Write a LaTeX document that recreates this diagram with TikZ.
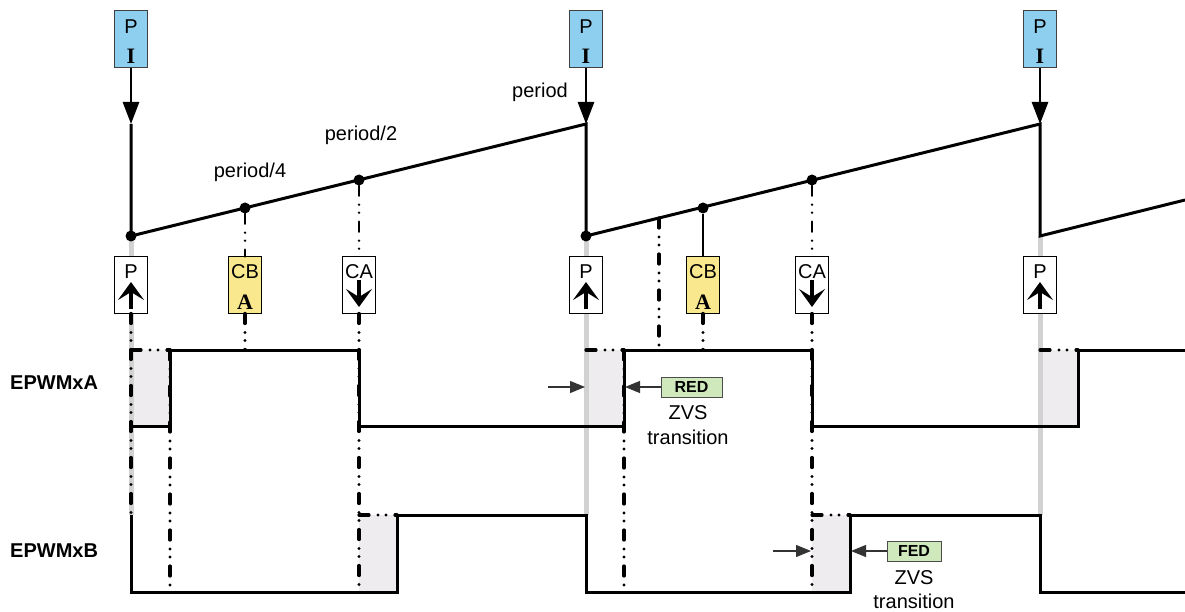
\documentclass[tikz,border=0pt]{standalone}
\usepackage{fontspec}
\setmainfont{Liberation Sans}
\newfontfamily\serifb{Liberation Serif}
\usetikzlibrary{arrows.meta,positioning}
\definecolor{piblue}{RGB}{142,206,238}
\definecolor{cbyellow}{RGB}{250,232,142}
\definecolor{dbgreen}{RGB}{208,233,188}
\definecolor{dbshade}{RGB}{238,236,238}
\definecolor{pline}{RGB}{210,210,210}

\begin{document}
\begin{tikzpicture}[x=1pt,y=-1pt,
  every node/.style={font=\fontsize{20}{24}\selectfont,inner sep=0pt},
  pibox/.style={draw=black!75,line width=1pt,fill=piblue,minimum width=33pt,minimum height=57pt},
  evbox/.style={draw=black,line width=1pt,fill=white,minimum width=33pt,minimum height=56pt},
  cbbox/.style={evbox,fill=cbyellow},
  dbbox/.style={draw=black!70,line width=1pt,fill=dbgreen,minimum height=20pt,font=\fontsize{16}{16}\selectfont\bfseries},
  serifA/.style={font=\serifb\bfseries\fontsize{22}{22}\selectfont},
  pt/.style={circle,fill=black,minimum size=11pt},
  wave/.style={line width=3pt},
  dashdot/.style={line width=3.2pt,line cap=round,dash pattern=on 10pt off 9pt on 0pt off 8pt on 0pt off 9pt},
  perline/.style={pline,line width=5pt},
  piarrow/.style={line width=2.8pt,-{Triangle[length=22pt,width=16pt]}},
  evarrow/.style={line width=4.5pt,-{Stealth[length=18pt,width=26pt,inset=8pt]}},
  dbarrow/.style={black!80,line width=1.2pt,-{Triangle[length=15pt,width=12pt]}}
]
  \useasboundingbox (0,0) rectangle (1185,612);

  % Zonas de banda muerta
  \foreach \xa/\xb/\ya/\yb in {131/170/350/426, 359/397/515/592, 586/624/350/426, 812/850/515/592, 1040/1078/350/426}
    \fill[dbshade] (\xa,\ya) rectangle (\xb,\yb);

  % Lineas de periodo
  \foreach \x in {131,586,1040}
    \draw[perline] (\x,236) -- (\x,515);

  % Diente de sierra
  \coordinate (t1) at (131,124);
  \coordinate (t2) at (586,124);
  \coordinate (t3) at (1040,124);
  \coordinate (b3) at (1040,236);
  \coordinate (e3) at (1185,200);
  \coordinate (r2) at (659,218);
  \node[pt] (b1) at (131,236) {};
  \node[pt] (q1) at (245,208) {};
  \node[pt] (h1) at (359,180) {};
  \node[pt] (b2) at (586,236) {};
  \node[pt] (q2) at (703,208) {};
  \node[pt] (h2) at (812,180) {};
  \draw[wave] (t1) -- (b1.center) -- (t2) -- (b2.center) -- (t3) -- (b3) -- (e3);

  \node at (250,172) {period/4};
  \node at (361,135) {period/2};
  \node at (540,92) {period};

  % Eventos P I
  \foreach \x/\n in {131/1,586/2,1040/3} {
    \node[pibox] (pi\n) at (\x,39) {};
    \node (pi\n p) at (\x,27) {P};
    \node[serifA] (pi\n i) at (\x,56) {I};
    \draw[piarrow] (pi\n) -- (t\n);
  }

  % Eventos P, CB, CA
  \foreach \x/\n in {131/1,586/2,1040/3} {
    \node[evbox] (p\n) at (\x,285) {};
    \node (p\n t) at (\x,272) {P};
    \draw[evarrow] (\x,309) -- (\x,282);
  }
  \foreach \x/\n in {245/1,703/2} {
    \node[cbbox] (cb\n) at (\x,285) {};
    \node (cb\n t) at (\x,272) {CB};
    \node[serifA] (cb\n a) at (\x,302) {A};
  }
  \foreach \x/\n in {359/1,812/2} {
    \node[evbox] (ca\n) at (\x,285) {};
    \node (ca\n t) at (\x,272) {CA};
    \draw[evarrow] (\x,280) -- (\x,307);
  }

  % Lineas de referencia
  \draw[dashdot,line width=2.6pt] (q1) -- (cb1.north);
  \draw[line width=1.2pt] (q2) -- (cb2.north);
  \draw[dashdot,line width=2.6pt] (h1) -- (ca1.north);
  \draw[dashdot,line width=2.6pt] (h2) -- (ca2.north);
  \draw[dashdot] (cb1.south) -- (245,350);
  \draw[dashdot] (cb2.south) -- (703,350);
  \draw[dashdot] (ca1.south) -- (359,592);
  \draw[dashdot] (ca2.south) -- (812,592);
  \draw[dashdot] (p1.south) -- (131,515);
  \draw[dashdot] (r2) -- (659,350);
  \draw[dashdot] (170,350) -- (170,592);
  \draw[dashdot] (624,350) -- (624,592);
  \foreach \xa/\xb/\y in {131/170/350, 359/397/515, 586/624/350, 812/850/515, 1040/1078/350}
    \draw[dashdot] (\xa,\y) -- (\xb,\y);

  % Salidas
  \draw[wave] (131,426) -- (170,426) -- (170,350) -- (359,350) -- (359,426) -- (624,426) -- (624,350)
    -- (812,350) -- (812,426) -- (1078,426) -- (1078,350) -- (1185,350);
  \draw[wave] (131,515) -- (131,592) -- (397,592) -- (397,515) -- (586,515) -- (586,592)
    -- (850,592) -- (850,515) -- (1040,515) -- (1040,592) -- (1185,592);

  \node[font=\fontsize{20}{24}\selectfont\bfseries,anchor=west] (epa) at (10,383) {EPWMxA};
  \node[font=\fontsize{20}{24}\selectfont\bfseries,anchor=west] (epb) at (10,551) {EPWMxB};

  % RED y FED
  \node[dbbox,minimum width=61pt] (red) at (691.5,387) {RED};
  \coordinate (redl0) at (548,387);
  \coordinate (redl) at (585,387);
  \coordinate (redr) at (625,387);
  \draw[dbarrow] (redl0) -- (redl);
  \draw[dbarrow] (red) -- (redr);
  \node (red1) at (688,413) {ZVS};
  \node (red2) at (688,437) {transition};

  \node[dbbox,minimum width=54pt] (fed) at (914,551) {FED};
  \coordinate (fedl0) at (773,551);
  \coordinate (fedl) at (811,551);
  \coordinate (fedr) at (851,551);
  \draw[dbarrow] (fedl0) -- (fedl);
  \draw[dbarrow] (fed) -- (fedr);
  \node (fed1) at (914,578) {ZVS};
  \node (fed2) at (914,601) {transition};
\end{tikzpicture}
\end{document}
